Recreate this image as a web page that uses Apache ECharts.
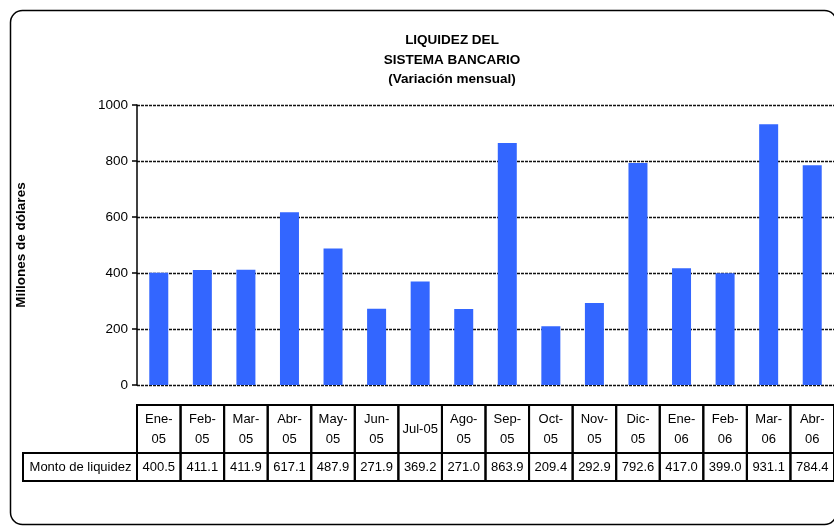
<!DOCTYPE html>
<html><head><meta charset="utf-8">
<script src="https://cdn.jsdelivr.net/npm/echarts@6/dist/echarts.min.js"></script>
<style>html,body{margin:0;padding:0;background:#fff}#c{width:834px;height:527px}</style>
</head><body><div id="c"></div>
<script>
const categories = ['Ene-05','Feb-05','Mar-05','Abr-05','May-05','Jun-05','Jul-05','Ago-05','Sep-05','Oct-05','Nov-05','Dic-05','Ene-06','Feb-06','Mar-06','Abr-06'];
const headerLabels = ['Ene-\n05','Feb-\n05','Mar-\n05','Abr-\n05','May-\n05','Jun-\n05','Jul-05','Ago-\n05','Sep-\n05','Oct-\n05','Nov-\n05','Dic-\n05','Ene-\n06','Feb-\n06','Mar-\n06','Abr-\n06'];
const values = [400.5, 411.1, 411.9, 617.1, 487.9, 271.9, 369.2, 271.0, 863.9, 209.4, 292.9, 792.6, 417.0, 399.0, 931.1, 784.4];
const seriesName = 'Monto de liquidez';
const titleLines = ['LIQUIDEZ DEL', 'SISTEMA BANCARIO', '(Variación mensual)'];
const yAxisName = 'Millones de dólares';

const FONT = 'Arial, "Liberation Sans", sans-serif';
const chart = echarts.init(document.getElementById('c'), null, {renderer: 'canvas'});
chart.setOption({
  animation: false,
  grid: {left: 137, right: 0, top: 105, bottom: 142},
  xAxis: {type: 'category', data: categories, axisLine: {show: false}, axisTick: {show: false}, axisLabel: {show: false}, splitLine: {show: false}},
  yAxis: {
    type: 'value', min: 0, max: 1000, interval: 200,
    name: yAxisName, nameLocation: 'middle', nameGap: 109, nameRotate: 90,
    nameTextStyle: {fontFamily: FONT, fontWeight: 'bold', fontSize: 13.5, color: '#000'},
    axisLine: {show: true, lineStyle: {color: '#000', width: 1.5}},
    axisTick: {show: true, length: 5, lineStyle: {color: '#000', width: 1.5}},
    axisLabel: {fontFamily: FONT, fontSize: 13.5, color: '#000', margin: 9, formatter: v => String(v)},
    splitLine: {show: true, lineStyle: {type: [3, 1], color: '#111', width: 1.3}}
  },
  series: [{type: 'bar', name: seriesName, data: values, barWidth: 19, itemStyle: {color: '#3366FF'}}]
});

const x0 = chart.convertToPixel({xAxisIndex: 0}, 0);
const x1 = chart.convertToPixel({xAxisIndex: 0}, 1);
const band = x1 - x0;
const headTop = 405, headH = 48, valH = 28;
const stroke = {fill: 'none', stroke: '#000', lineWidth: 2};
const els = [];
els.push({type: 'rect', shape: {x: 10.5, y: 10.5, width: 826, height: 514, r: 12}, style: {fill: 'none', stroke: '#000', lineWidth: 1.5}, silent: true});
els.push({type: 'text', x: 452, y: 31, style: {text: titleLines.join('\n'), fontFamily: FONT, fontWeight: 'bold', fontSize: 13.5, lineHeight: 19.5, fill: '#000', align: 'center', verticalAlign: 'top'}});
// label cell
els.push({type: 'rect', shape: {x: 23, y: headTop + headH, width: x0 - band / 2 - 23, height: valH}, style: stroke});
els.push({type: 'text', x: (23 + x0 - band / 2) / 2 + 0.5, y: headTop + headH + valH / 2 + 0.5, style: {text: seriesName, fontFamily: FONT, fontSize: 13, fill: '#000', align: 'center', verticalAlign: 'middle'}});
for (let i = 0; i < categories.length; i++) {
  const cx = chart.convertToPixel({xAxisIndex: 0}, i);
  els.push({type: 'rect', shape: {x: cx - band / 2, y: headTop, width: band, height: headH}, style: stroke});
  els.push({type: 'rect', shape: {x: cx - band / 2, y: headTop + headH, width: band, height: valH}, style: stroke});
  els.push({type: 'text', x: cx, y: headTop + headH / 2 + 0.5, style: {text: headerLabels[i], fontFamily: FONT, fontSize: 13, lineHeight: 20, fill: '#000', align: 'center', verticalAlign: 'middle'}});
  els.push({type: 'text', x: cx, y: headTop + headH + valH / 2 + 0.5, style: {text: values[i].toFixed(1), fontFamily: FONT, fontSize: 13, fill: '#000', align: 'center', verticalAlign: 'middle'}});
}
chart.setOption({graphic: {elements: els}});
</script>
</body></html>
